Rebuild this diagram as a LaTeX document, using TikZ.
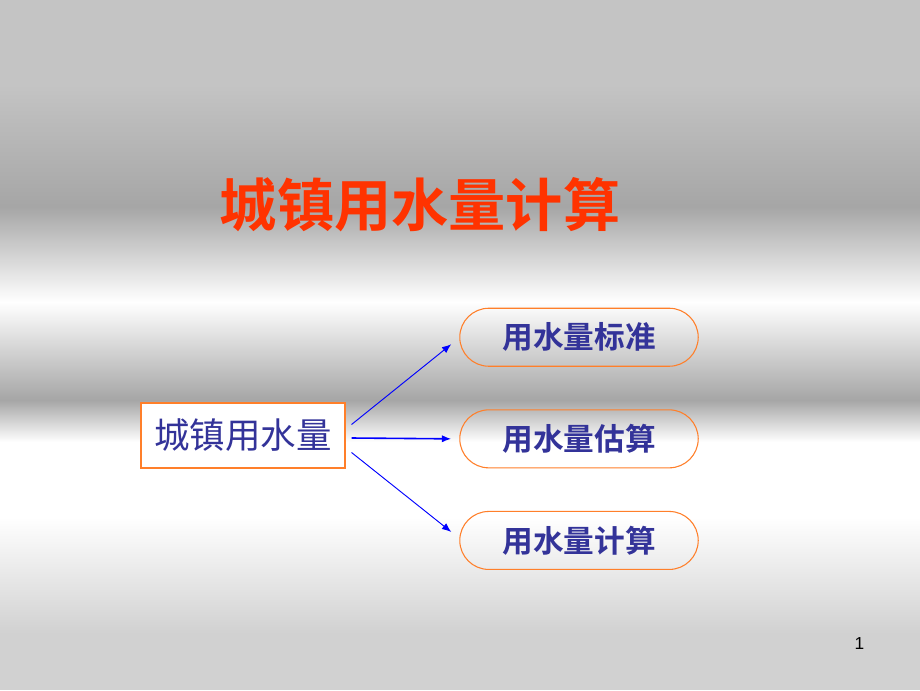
\documentclass[tikz,border=0pt]{standalone}
\usepackage{fontspec}
\setmainfont{Liberation Sans}
\newfontfamily\cjk{Noto Sans CJK SC}
\newfontfamily\cjkbold{Noto Sans CJK SC Bold}
\usetikzlibrary{calc}
\usetikzlibrary{shapes,arrows,arrows.meta,positioning}
\definecolor{titlered}{HTML}{FF3300}
\definecolor{navy}{HTML}{333399}
\definecolor{edgeorange}{HTML}{FF7F2A}

\begin{document}
\begin{tikzpicture}[x=0.75pt,y=-0.75pt,
     topic/.style = {draw=edgeorange, rectangle, line width=0.8pt, minimum width=153pt, minimum height=48.75pt,
      fill=white, text=navy, font=\cjk\fontsize{26.6}{30}\selectfont},
     item/.style = {draw=edgeorange, rounded rectangle, line width=0.8pt, minimum width=185.5pt, minimum height=43.5pt,
      text=navy, font=\cjkbold\fontsize{23}{26}\selectfont},
     arrow/.style={draw=blue, -{Latex[length=7pt,width=5.5pt]}, line width=0.7pt}
    ]
    % background
    \useasboundingbox (0,0) rectangle (920,690);
    \fill[black!23] (0,0) rectangle (920,83);
    \shade[top color=black!23, bottom color=black!35] (0,83) rectangle (920,207);
    \shade[top color=black!35, bottom color=white] (0,207) rectangle (920,302);
    \shade[top color=white, bottom color=black!35] (0,302) rectangle (920,400);
    \shade[top color=black!35, bottom color=white] (0,400) rectangle (920,442);
    \fill[white] (0,442) rectangle (920,517);
    \shade[top color=white, bottom color=black!18] (0,517) rectangle (920,633);
    \fill[black!18] (0,633) rectangle (920,690);

    \node [text=titlered, font=\cjkbold\fontsize{42.9}{48}\selectfont] (title) at (420,205) {城镇用水量计算};

    \node [topic] (city) at (243,435.5) {城镇用水量};
    \node [item, right of=city, node distance=252pt, yshift=-2.5pt] (est) {用水量估算};
    \node [item, above of=est, node distance=76.2pt] (std) {用水量标准};
    \node [item, below of=est, node distance=76.2pt] (calc) {用水量计算};

    \draw[arrow] ([shift={(6,-11)}]city.east) -- ([shift={(-8,7)}]std.west);
    \draw[arrow, line width=1.2pt] ([shift={(6,2.5)}]city.east) -- ([xshift=-6pt]est.west);
    \draw[arrow] ([shift={(6,17)}]city.east) -- ([shift={(-8,-8.5)}]calc.west);

    \node [font=\fontsize{13}{15}\selectfont] (page) at (859.5,643.5) {1};
\end{tikzpicture}
\end{document}
